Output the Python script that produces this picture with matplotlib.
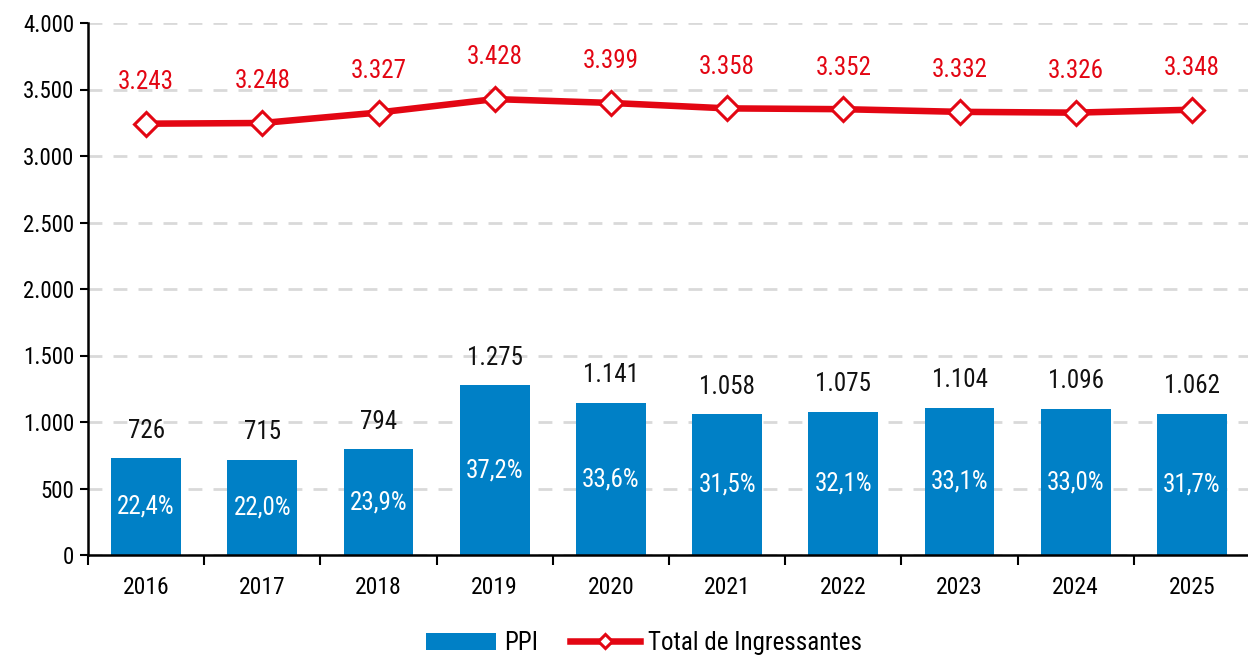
import matplotlib
matplotlib.use("Agg")
import matplotlib.pyplot as plt
from matplotlib.ticker import FuncFormatter, FixedLocator
from matplotlib import font_manager
import numpy as np

years = ["2016", "2017", "2018", "2019", "2020", "2021", "2022", "2023", "2024", "2025"]
ppi = [726, 715, 794, 1275, 1141, 1058, 1075, 1104, 1096, 1062]
total = [3243, 3248, 3327, 3428, 3399, 3358, 3352, 3332, 3326, 3348]
pct = ["22,4%", "22,0%", "23,9%", "37,2%", "33,6%", "31,5%", "32,1%", "33,1%", "33,0%", "31,7%"]

names = sorted({f.name for f in font_manager.fontManager.ttflist})
cands = ['Liberation Sans Narrow', 'Roboto Condensed', 'DejaVu Sans Condensed',
         'Open Sans Condensed', 'Arial Narrow', 'Liberation Sans']
fam = [c for c in cands if c in names] + ['DejaVu Sans']
plt.rcParams['font.family'] = fam

BLUE = "#0080C6"
RED = "#E30613"

def fmt(v):
    return f"{int(v):,}".replace(",", ".")

fig = plt.figure(figsize=(12.48, 6.59), dpi=100)
ax = fig.add_axes([88/1248, 1-555/659, 1162/1248, (555-23)/659])

x = np.arange(len(years))
bars = ax.bar(x, ppi, width=0.6, color=BLUE, zorder=2, label="PPI")
line, = ax.plot(x, total, color=RED, lw=4.7, marker="D", markersize=12,
                markerfacecolor="white", markeredgecolor=RED, markeredgewidth=2.2,
                zorder=3, label="Total de Ingressantes")

for xi, v, p in zip(x, ppi, pct):
    ax.annotate(fmt(v), (xi, v), xytext=(0, 20), textcoords="offset points",
                ha="center", va="center", fontsize=18, color="#111111")
    ax.text(xi, v/2, p, ha="center", va="center", fontsize=18, color="white", zorder=4)
for xi, v in zip(x, total):
    ax.annotate(fmt(v), (xi, v), xytext=(0, 30), textcoords="offset points",
                ha="center", va="center", fontsize=18, color=RED)

ax.set_xlim(-0.5, len(years)-0.5)
ax.set_ylim(0, 4000)
ax.set_yticks(np.arange(0, 4001, 500))
ax.yaxis.set_major_formatter(FuncFormatter(lambda v, _: fmt(v)))
ax.set_xticks(x)
ax.set_xticklabels(years)
ax.xaxis.set_minor_locator(FixedLocator(np.arange(-0.5, len(years), 1.0)))
ax.tick_params(axis="x", which="major", length=0, pad=15, labelsize=17)
ax.tick_params(axis="x", which="minor", length=7, width=1.5, direction="out")
ax.tick_params(axis="y", length=6, width=1.5, labelsize=16.5, pad=4)

ax.grid(axis="y", color="#D9D9D9", linestyle=(0, (5, 4)), linewidth=2, zorder=0)
ax.set_axisbelow(True)
for s in ["top", "right"]:
    ax.spines[s].set_visible(False)
for s in ["left", "bottom"]:
    ax.spines[s].set_linewidth(1.8)
    ax.spines[s].set_color("black")

leg = fig.legend([bars, line], ["PPI", "Total de Ingressantes"], loc="center",
                 bbox_to_anchor=(0.516, 1-643/659), ncol=2, frameon=False,
                 fontsize=18, handlelength=2.8, handletextpad=0.3, columnspacing=1.3,
                 markerscale=0.6)
fig.savefig("out.png", dpi=100)
